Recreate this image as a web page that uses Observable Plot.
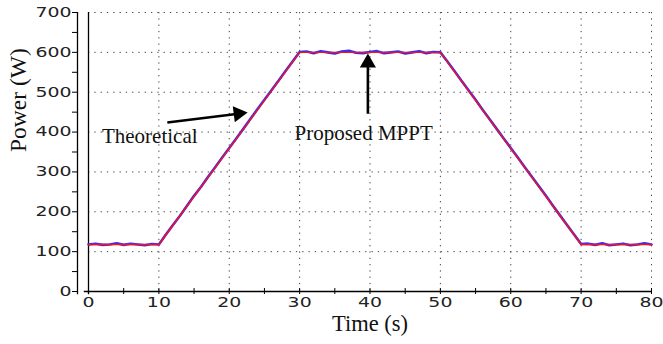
<!DOCTYPE html>
<html>
<head>
<meta charset="utf-8">
<script src="https://cdn.jsdelivr.net/npm/d3@7"></script>
<script src="https://cdn.jsdelivr.net/npm/@observablehq/plot@0.6"></script>
<style>
  html, body { margin: 0; padding: 0; background: #fff; }
</style>
</head>
<body>
<div id="chart"></div>
<script>
// Theoretical power profile (s, W)
const theoTime  = [0, 10, 30, 50, 70, 80];
const theoPower = [118, 118, 600, 600, 118, 118];

// Proposed MPPT measured power (s, W)
const mpptTime = [0,1,2,3,4,5,6,7,8,9,10,11,12,13,14,15,16,17,18,19,20,21,22,23,24,25,26,27,28,29,30,31,32,33,34,35,36,37,38,39,40,41,42,43,44,45,46,47,48,49,50,51,52,53,54,55,56,57,58,59,60,61,62,63,64,65,66,67,68,69,70,71,72,73,74,75,76,77,78,79,80];
const mpptPower = [118,120,117,118,121,117,120,118,116,119,118,143,167,190,215,240,263,288,312,336,360,384,408,433,457,481,505,529,553,577,601,602,598,603,600,597,602,604,599,598,601,603,598,600,602,597,600,603,598,601,600,577,553,529,505,481,456,432,408,384,360,336,312,288,264,240,215,191,167,143,119,120,117,121,116,118,120,116,118,121,118];

// axis ticks
const xTicks = [0,10,20,30,40,50,60,70,80];
const xMinorTicks = [0,5,10,15,20,25,30,35,40,45,50,55,60,65,70,75,80];
const yTicks = [0,100,200,300,400,500,600,700];
const yMinorTicks = [0,50,100,150,200,250,300,350,400,450,500,550,600,650,700];

// annotations
const annLabels = ["Theoretical", "Proposed MPPT"];
const annTextX = [8.7, 39.1];
const annTextY = [389, 396];
const arrowTailX = [11.2, 39.7];
const arrowTailY = [424, 446];
const arrowHeadX = [21.3, 39.7];
const arrowHeadY = [446, 574];
const arrowAngle = [83, 0];

const theo = theoTime.map((t, i) => ({t, p: theoPower[i]}));
const mppt = mpptTime.map((t, i) => ({t, p: mpptPower[i]}));
const ann = annLabels.map((label, i) => ({
  label, tx: annTextX[i], ty: annTextY[i],
  x1: arrowTailX[i], y1: arrowTailY[i], x2: arrowHeadX[i], y2: arrowHeadY[i], rot: arrowAngle[i]
}));

const serif = "Liberation Serif, Times New Roman, serif";

const chart = Plot.plot({
  width: 663,
  height: 344,
  marginLeft: 88,
  marginRight: 12,
  marginTop: 12,
  marginBottom: 53,
  style: {fontFamily: "DejaVu Sans, sans-serif", fontSize: "13.5px", color: "#222", background: "#fff"},
  x: {domain: [0, 80]},
  y: {domain: [0, 700]},
  marks: [
    Plot.gridX(xTicks.slice(1), {stroke: "#444", strokeOpacity: 1, strokeDasharray: "1.3,5"}),
    Plot.gridY(yTicks.slice(1), {stroke: "#444", strokeOpacity: 1, strokeDasharray: "1.3,5"}),
    // y axis (offset line with ticks) and frame line
    Plot.axisY(yMinorTicks, {tickSize: 5, tickPadding: 1, dx: -11, label: null,
      tickFormat: d => (d % 100 === 0 ? d : ""), stroke: "#000"}),
    Plot.ruleX([0], {dx: -11, y1: -8, y2: 700, stroke: "#000", strokeWidth: 1.3}),
    Plot.ruleX([0], {y1: -8, y2: 700, stroke: "#000", strokeWidth: 1.3}),
    // x axis
    Plot.ruleY([0], {x1: -0.6, x2: 80, stroke: "#000", strokeWidth: 1.3}),
    Plot.axisX(xMinorTicks, {tickSize: 6, dy: -3, tickFormat: () => "", label: null, stroke: "#000"}),
    Plot.axisX(xTicks, {tickSize: 0, tickPadding: 6, label: null}),
    // axis labels
    Plot.text(["Power (W)"], {frameAnchor: "left", dx: -70, rotate: -90, fontFamily: serif, fontSize: 23.5, fill: "#111"}),
    Plot.text(["Time (s)"], {frameAnchor: "bottom", dy: 39.5, fontFamily: serif, fontSize: 22.5, fill: "#111"}),
    // data
    Plot.line(mppt, {x: "t", y: "p", stroke: "#2f2fff", strokeWidth: 2.6}),
    Plot.line(theo, {x: "t", y: "p", stroke: "#ff1010", strokeWidth: 1.4}),
    // annotations
    Plot.link(ann, {x1: "x1", y1: "y1", x2: "x2", y2: "y2", stroke: "#000", strokeWidth: 2.6}),
    Plot.dot(ann, {x: "x2", y: "y2", symbol: "triangle", r: 6, fill: "#000", stroke: "none", rotate: "rot"}),
    Plot.text(ann, {x: "tx", y: "ty", text: "label", fontFamily: serif, fontSize: 21, fill: "#111"})
  ]
});
document.getElementById("chart").appendChild(chart);

// widen the tick-label digits horizontally, as in the reference (scaled about each label's anchor)
chart.querySelectorAll('g[aria-label="x-axis tick label"] text, g[aria-label="y-axis tick label"] text').forEach(t => {
  const x = parseFloat(t.getAttribute("x") || 0);
  const y = parseFloat(t.getAttribute("y") || 0);
  const T = t.getAttribute("transform") || "";
  t.setAttribute("transform", `${T} translate(${x},${y}) scale(1.4,1) translate(${-x},${-y})`);
});
</script>
</body>
</html>
